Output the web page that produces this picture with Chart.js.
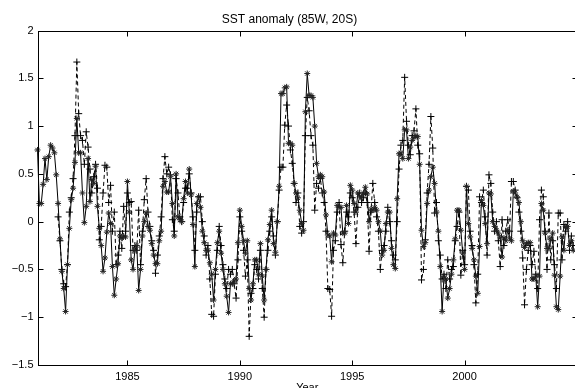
<!DOCTYPE html>
<html>
<head>
<meta charset="utf-8">
<script src="https://cdn.jsdelivr.net/npm/chart.js@4.4.1/dist/chart.umd.min.js"></script>
<style>
  html, body { margin: 0; padding: 0; background: #fff; }
  #wrap { width: 575px; height: 388px; overflow: hidden; }
  canvas { display: block; }
</style>
</head>
<body>
<div id="wrap"><canvas id="sst" width="582" height="396"></canvas></div>
<script>
// monthly series, first value = Jan 1981
const startYear = 1981;
const xTicks = [1985, 1990, 1995, 2000];
const yTicks = [-1.5, -1, -0.5, 0, 0.5, 1, 1.5, 2];

// solid line, asterisk markers
const anomalyStar = [
  0.75, 0.19, 0.19, 0.39, 0.66, 0.44, 0.68, 0.80, 0.77, 0.72, 0.49, 0.19,
  -0.18, -0.52, -0.70, -0.94, -0.45, -0.07, 0.23, 0.35, 0.62, 1.08, 0.72, 0.72,
  0.30, -0.01, 0.16, 0.66, 0.21, 0.44, 0.40, 0.58, 0.16, -0.07, -0.25, -0.52,
  -0.38, -0.11, 0.09, -0.02, -0.47, -0.77, -0.60, -0.44, -0.15, -0.17, -0.15, -0.16,
  0.42, 0.10, -0.40, -0.50, -0.30, -0.25, -0.72, -0.50, -0.15, 0.00, 0.09, -0.05,
  -0.09, -0.23, -0.35, -0.44, -0.44, -0.20, -0.10, 0.37, 0.42, 0.31, 0.31, 0.47,
  0.19, -0.15, 0.50, 0.05, 0.02, 0.00, 0.24, 0.42, 0.30, 0.55, 0.28, -0.03,
  -0.47, 0.19, 0.26, 0.15, -0.10, -0.22, -0.30, -0.30, -0.43, -0.55, -0.82, -0.50,
  -0.22, -0.10, -0.33, -0.50, -0.65, -0.78, -0.95, -0.65, -0.65, -0.62, -0.60, -0.22,
  0.12, -0.05, -0.20, -0.33, -0.20, -0.70, -0.82, -0.65, -0.40, -0.40, -0.55, -0.23,
  -0.57, -0.82, -0.50, -0.19, -0.03, 0.12, -0.23, -0.32, 0.00, 0.37, 1.34, 1.34,
  1.40, 1.41, 0.82, 0.82, 0.80, 0.40, 0.30, 0.25, 0.12, -0.02, -0.09, 1.15,
  1.55, 1.32, 1.32, 1.30, 1.00, 0.61, 0.47, 0.49, 0.47, 0.31, 0.07, -0.14,
  -0.15, -0.42, -0.12, -0.14, 0.17, 0.15, 0.15, -0.12, -0.12, 0.17, -0.02, 0.38,
  0.33, 0.19, 0.10, 0.30, 0.26, 0.26, 0.30, 0.36, 0.29, 0.00, 0.13, 0.12,
  0.15, 0.12, 0.00, -0.10, -0.35, -0.30, -0.02, 0.10, 0.10, -0.28, -0.45, -0.49,
  0.24, 0.71, 0.72, 0.66, 0.96, 0.96, 0.66, 0.78, 0.85, 0.88, 0.90, 0.89,
  0.60, -0.09, -0.26, -0.22, 0.19, 0.33, 0.47, 0.57, 0.40, 0.10, -0.10, -0.47,
  -0.94, -0.57, -0.60, -0.80, -0.70, -0.55, -0.40, -0.18, 0.12, 0.12, -0.09, -0.33,
  -0.50, 0.37, -0.02, -0.16, -0.28, -0.40, -0.57, -0.75, -0.26, 0.22, 0.17, -0.02,
  -0.23, 0.30, 0.29, 0.00, -0.05, -0.09, -0.12, -0.17, -0.37, -0.17, -0.20, -0.09,
  -0.17, -0.20, 0.32, 0.30, 0.26, 0.20, 0.00, -0.20, -0.27, -0.23, -0.22, -0.22,
  -0.60, -0.60, -0.57, -0.89, -0.57, 0.19, 0.12, -0.12, -0.28, -0.28, -0.19, -0.12,
  -0.56, -0.89, -0.92, -0.57, -0.16, -0.30, -0.05, -0.05, -0.25, -0.20, -0.30
];

// dashed line, plus markers (starts Dec 1981)
const anomalyPlus = [
  null, null, null, null, null, null, null, null, null, null, null, 0.05,
  -0.20, -0.50, -0.65, -0.68, -0.45, 0.10, 0.25, 0.45, 0.90, 1.67, 1.13, 0.90,
  0.85, 0.60, 0.94, 0.78, 0.55, 0.30, 0.47, 0.60, 0.35, -0.19, -0.05, 0.30,
  0.59, 0.57, 0.20, 0.38, -0.10, 0.10, -0.45, -0.35, -0.10, -0.28, 0.16, -0.10,
  0.30, 0.20, 0.21, -0.30, -0.25, -0.30, 0.12, -0.45, -0.10, 0.23, 0.45, 0.10,
  -0.05, -0.20, -0.30, -0.54, -0.35, -0.15, 0.05, 0.45, 0.68, 0.50, 0.57, 0.49,
  0.02, -0.10, 0.45, 0.30, 0.05, 0.00, 0.20, 0.35, 0.35, 0.50, 0.30, 0.05,
  -0.30, 0.10, 0.26, 0.26, 0.00, -0.15, -0.35, -0.25, -0.60, -0.97, -0.99, -0.55,
  -0.30, -0.05, -0.25, -0.45, -0.60, -0.70, -0.50, -0.55, -0.50, -0.65, -0.80, -0.40,
  0.05, -0.10, -0.30, -0.57, -0.40, -1.20, -0.75, -0.70, -0.45, -0.50, -0.60, -0.30,
  -0.70, -1.00, -0.50, -0.30, -0.10, 0.05, -0.15, -0.35, 0.00, 0.33, 0.57, 0.57,
  1.01, 1.22, 1.00, 0.75, 0.61, 0.40, 0.20, 0.30, -0.05, -0.12, 0.00, 0.90,
  1.30, 1.16, 0.90, 0.80, 0.12, 0.40, 0.35, 0.45, 0.30, 0.20, -0.10, -0.70,
  -0.71, -0.99, -0.30, -0.20, 0.10, 0.20, -0.24, -0.43, -0.10, 0.10, 0.05, 0.30,
  0.25, 0.10, -0.23, 0.15, 0.30, 0.20, 0.25, 0.30, 0.20, -0.31, 0.10, 0.40,
  0.20, 0.05, -0.10, -0.50, -0.30, -0.25, -0.10, 0.15, 0.00, -0.20, -0.35, -0.40,
  0.00, 0.55, 0.80, 0.85, 1.51, 1.05, 0.80, 0.70, 0.90, 0.95, 1.18, 0.80,
  0.71, -0.61, -0.50, -0.19, 0.30, 0.60, 1.10, 0.77, 0.09, 0.20, -0.20, -0.35,
  -0.60, -0.55, -0.70, -0.40, -0.60, -0.50, -0.47, -0.20, -0.05, 0.10, -0.56, -0.30,
  -0.45, 0.37, 0.33, -0.10, -0.25, -0.45, -0.85, -0.55, 0.26, 0.20, 0.33, 0.05,
  -0.35, 0.49, 0.40, 0.10, -0.10, 0.00, -0.20, -0.47, 0.02, -0.25, -0.10, 0.02,
  -0.10, 0.42, 0.42, 0.33, 0.25, 0.10, -0.10, -0.38, -0.87, -0.50, -0.30, -0.25,
  -0.45, -0.31, -0.55, -0.70, 0.02, 0.33, 0.26, -0.10, -0.50, 0.09, -0.40, -0.20,
  -0.45, -0.70, 0.09, 0.09, -0.40, -0.03, -0.10, 0.00, -0.30, -0.15, -0.25
];

const toPoints = vals => vals.map((v, i) => ({ x: startYear + i / 12, y: v }));
const fontFamily = "'Liberation Sans', Arial, Helvetica, sans-serif";

// matlab style box with inward ticks on all four sides
const axesBox = {
  id: "axesBox",
  afterDatasetsDraw(chart) {
    const { ctx, chartArea: a, scales: { x, y } } = chart;
    const L = Math.round(a.left) + 0.5, R = Math.round(a.right) + 0.5;
    const T = Math.round(a.top) + 0.5, B = Math.round(a.bottom) + 0.5;
    ctx.save();
    ctx.strokeStyle = "#000";
    ctx.lineWidth = 1;
    ctx.strokeRect(L, T, R - L, B - T);
    ctx.beginPath();
    xTicks.forEach(v => {
      const p = Math.round(x.getPixelForValue(v)) + 0.5;
      ctx.moveTo(p, B); ctx.lineTo(p, B - 5);
      ctx.moveTo(p, T); ctx.lineTo(p, T + 5);
    });
    yTicks.forEach(v => {
      const p = Math.round(y.getPixelForValue(v)) + 0.5;
      ctx.moveTo(L, p); ctx.lineTo(L + 5, p);
      ctx.moveTo(R, p); ctx.lineTo(R - 5, p);
    });
    ctx.stroke();
    ctx.restore();
  }
};

new Chart(document.getElementById("sst").getContext("2d"), {
  type: "line",
  data: {
    datasets: [
      {
        label: "star",
        data: toPoints(anomalyStar),
        borderColor: "#000",
        borderWidth: 1,
        pointStyle: "star",
        pointRadius: 3,
        pointBorderWidth: 1,
        pointBorderColor: "#222",
        fill: false,
        tension: 0,
        clip: false
      },
      {
        label: "plus",
        data: toPoints(anomalyPlus),
        borderColor: "#000",
        borderWidth: 1,
        borderDash: [4, 3],
        pointStyle: "cross",
        pointRadius: 3.5,
        pointBorderWidth: 1,
        pointBorderColor: "#000",
        fill: false,
        tension: 0,
        spanGaps: false,
        clip: false
      }
    ]
  },
  options: {
    responsive: false,
    animation: false,
    devicePixelRatio: 1,
    layout: { padding: { left: 0, right: 3, top: 0, bottom: 0 } },
    plugins: {
      legend: { display: false },
      tooltip: { enabled: false },
      title: {
        display: true,
        text: "SST anomaly (85W, 20S)",
        color: "#000",
        font: { family: fontFamily, size: 12, weight: "normal" },
        padding: { top: 12.5, bottom: 3.6 }
      }
    },
    scales: {
      x: {
        type: "linear",
        min: 1981,
        max: 2005,
        grid: { display: false, drawTicks: false },
        border: { display: false },
        afterBuildTicks: s => { s.ticks = xTicks.map(v => ({ value: v })); },
        afterFit: s => { s.height = 31; },
        ticks: {
          color: "#000",
          padding: 5,
          maxRotation: 0,
          font: { family: fontFamily, size: 11 },
          callback: v => String(v)
        },
        title: {
          display: true,
          text: "Year",
          color: "#000",
          font: { family: fontFamily, size: 11 },
          padding: { top: 0, bottom: 1.5 }
        }
      },
      y: {
        min: -1.5,
        max: 2,
        grid: { display: false, drawTicks: false },
        border: { display: false },
        afterBuildTicks: s => { s.ticks = yTicks.map(v => ({ value: v })); },
        afterFit: s => { s.width = 37.5; },
        ticks: {
          color: "#000",
          padding: 4,
          font: { family: fontFamily, size: 11 },
          callback: v => (v < 0 ? "\u2212" + Math.abs(v) : String(v))
        }
      }
    }
  },
  plugins: [axesBox]
});
</script>
</body>
</html>
